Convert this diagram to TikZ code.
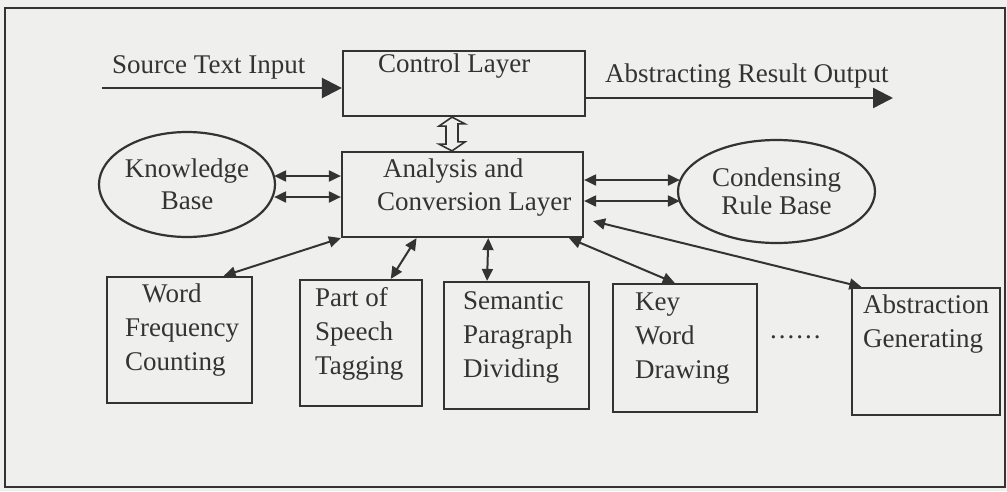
\documentclass[tikz,border=0pt]{standalone}
\usepackage{fontspec}
\setmainfont{Liberation Serif}
\usetikzlibrary{arrows.meta,shapes.geometric,calc}
\definecolor{ink}{HTML}{333333}
\definecolor{paper}{HTML}{EFEFEE}
\begin{document}
\begin{tikzpicture}[x=1pt,y=-1pt,
  font=\fontsize{27}{34}\selectfont,
  box/.style={draw=ink, line width=2.2pt, rectangle, inner sep=0pt},
  oval/.style={draw=ink, line width=2.2pt, ellipse, inner sep=0pt, text=ink, align=center},
  txt/.style={text=ink, inner sep=0pt, align=left, anchor=base west},
  mainarrow/.style={draw=ink, line width=2.4pt, -{Triangle[length=20pt,width=20pt]}},
  dblarrow/.style={draw=ink, line width=2pt, {Triangle[length=12pt,width=11pt]}-{Triangle[length=12pt,width=11pt]}},
  hollow/.style={draw=ink, line width=1.6pt, fill=paper, line join=miter}
]
\useasboundingbox (0,0) rectangle (1007,491);
\fill[paper] (0,0) rectangle (1007,491);
\draw[ink, line width=2.2pt] (5,8) rectangle (1005,487);

% main nodes
\node[box, minimum width=242pt, minimum height=65pt] (ctrl) at (464,83.5) {};
\node[box, minimum width=241pt, minimum height=85pt] (ana) at (462.5,194.5) {};
\node[oval, minimum width=175pt, minimum height=105pt] (kb) at (187,184.5) {Knowledge\\[-2pt]Base};
\node[oval, minimum width=197pt, minimum height=103pt] (crb) at (776.5,191.5) {Condensing\\[-6pt]Rule Base};

\node[box, minimum width=145pt, minimum height=126pt] (wfc) at (179.5,340) {};
\node[box, minimum width=122pt, minimum height=126pt] (pos) at (361,343) {};
\node[box, minimum width=145pt, minimum height=127pt] (sem) at (516.5,345.5) {};
\node[box, minimum width=144pt, minimum height=128pt] (kwd) at (685,348) {};
\node[box, minimum width=148pt, minimum height=127pt] (abs) at (926,351.5) {};

% texts (anchor = baseline of the last line)
\node[txt] (srct) at (112,73) {Source Text Input};
\node[txt] (ctrlt) at (378,72) {Control Layer};
\node[txt] (outt) at (605,82) {Abstracting Result Output};
\node[txt] (anat) at (377,210) {\hspace{6pt}Analysis and\\[-1pt]Conversion Layer};
\node[txt] (wfct) at (125,370) {\hspace{17pt}Word\\Frequency\\Counting};
\node[txt] (post) at (315,374) {Part of\\Speech\\Tagging};
\node[txt] (semt) at (463,377) {Semantic\\Paragraph\\Dividing};
\node[txt] (kwdt) at (635,378) {Key\\Word\\Drawing};
\node[txt] (abst) at (863,347) {Abstraction\\Generating};
\node[txt] (dots) at (770,338) {.\hspace{2pt}.\hspace{2pt}.\hspace{2pt}.\hspace{2pt}.\hspace{2pt}.};

% connectors
\coordinate (src) at (102,88);
\coordinate (out) at (893,98);
\draw[mainarrow] (src) -- (ctrl.west |- src);
\draw[mainarrow] (ctrl.east |- out) -- (out);

% hollow two-way arrow between the layers
\draw[hollow] ([xshift=-12pt]ctrl.south) -- ++(-13,9) -- ++(7,0) -- ++(0,18)
  -- ++(-7,0) -- ([xshift=-10.5pt]ana.north) -- ++(13,-9) -- ++(-7,0) -- ++(0,-18)
  -- ++(7,0) -- cycle;

\draw[dblarrow] (kb.east |- 0,176) ++(-2,0) -- (ana.west |- 0,176);
\draw[dblarrow] (kb.east |- 0,197) ++(-2,0) -- (ana.west |- 0,197);
\draw[dblarrow] (ana.east |- 0,180) -- ($(crb.west |- 0,180)+(3,0)$);
\draw[dblarrow] (ana.east |- 0,201) -- ($(crb.west |- 0,201)+(3,0)$);

\draw[dblarrow] (ana.south west) -- ($(wfc.north west)!0.8!(wfc.north east)$);
\draw[dblarrow] ($(ana.south west)!0.311!(ana.south east)$) -- ($(pos.north west)!0.74!(pos.north east)$);
\draw[dblarrow] ($(ana.south west)!0.606!(ana.south east)$) -- ($(sem.north west)!0.30!(sem.north east)$);
\draw[dblarrow] ($(ana.south west)!0.938!(ana.south east)$) -- ($(kwd.north west)!0.43!(kwd.north east)$);
\draw[dblarrow] ([xshift=9pt,yshift=17pt]ana.south east) -- ($(abs.north west)!0.07!(abs.north east)$);
\end{tikzpicture}
\end{document}
